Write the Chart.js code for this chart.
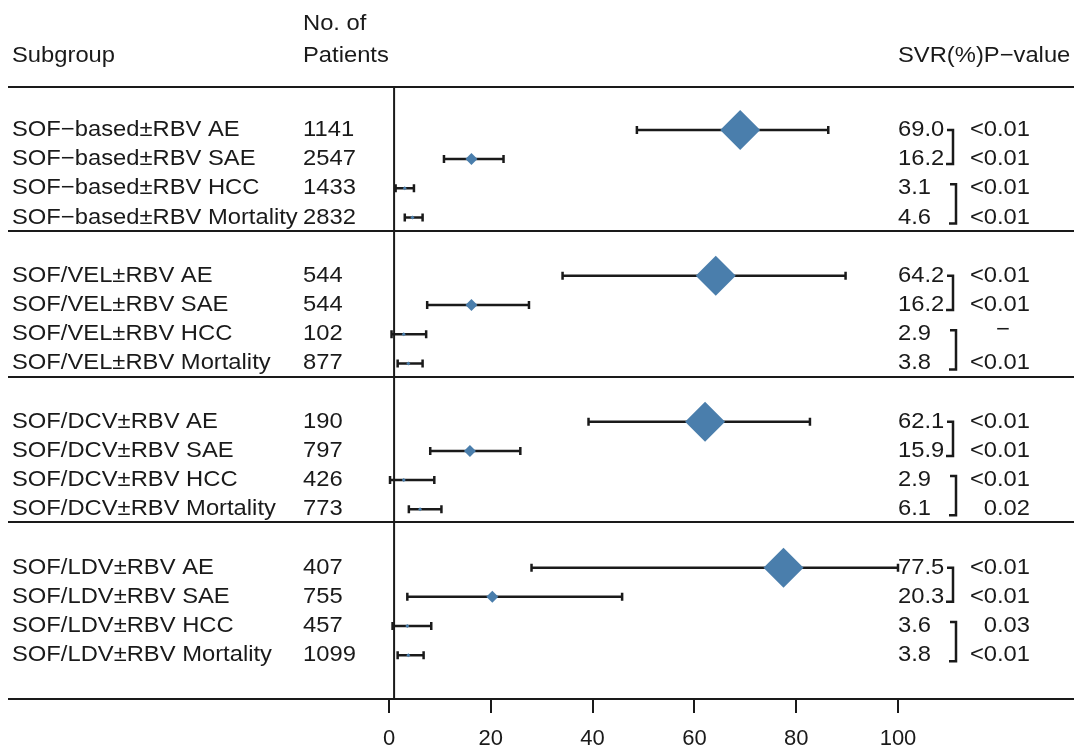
<!DOCTYPE html>
<html lang="en">
<head>
  <meta charset="UTF-8" />
  <title>SVR forest plot</title>
  <script src="https://cdn.jsdelivr.net/npm/chart.js"></script>
  <style>
    html, body {
      margin: 0;
      padding: 0;
      background: #fff;
    }
  </style>
</head>
<body>
  <canvas id="forest" width="1074" height="747"></canvas>

  <script>
    // Data
    const subgroups = [
      'SOF−based±RBV AE', 'SOF−based±RBV SAE', 'SOF−based±RBV HCC', 'SOF−based±RBV Mortality',
      'SOF/VEL±RBV AE', 'SOF/VEL±RBV SAE', 'SOF/VEL±RBV HCC', 'SOF/VEL±RBV Mortality',
      'SOF/DCV±RBV AE', 'SOF/DCV±RBV SAE', 'SOF/DCV±RBV HCC', 'SOF/DCV±RBV Mortality',
      'SOF/LDV±RBV AE', 'SOF/LDV±RBV SAE', 'SOF/LDV±RBV HCC', 'SOF/LDV±RBV Mortality'
    ];
    const patients = [1141, 2547, 1433, 2832, 544, 544, 102, 877, 190, 797, 426, 773, 407, 755, 457, 1099];
    const svr = [69.0, 16.2, 3.1, 4.6, 64.2, 16.2, 2.9, 3.8, 62.1, 15.9, 2.9, 6.1, 77.5, 20.3, 3.6, 3.8];
    const ciLow = [48.7, 10.8, 1.3, 3.1, 34.1, 7.5, 0.5, 1.7, 39.2, 8.1, 0.2, 3.9, 28.0, 3.6, 0.7, 1.7];
    const ciHigh = [86.3, 22.5, 4.9, 6.6, 89.7, 27.5, 7.3, 6.6, 82.7, 25.8, 8.9, 10.3, 100, 45.8, 8.3, 6.8];
    const pValues = ['<0.01', '<0.01', '<0.01', '<0.01', '<0.01', '<0.01', '−', '<0.01',
                     '<0.01', '<0.01', '<0.01', '0.02', '<0.01', '<0.01', '0.03', '<0.01'];
    const xTicks = [0, 20, 40, 60, 80, 100];
    const refValue = 1;

    // layout helpers
    const perGroup = 4;
    const nGroups = subgroups.length / perGroup;
    const rowOf = i => Math.floor(i / perGroup) * (perGroup + 1) + (i % perGroup);
    const markerSize = [20, 6, 2, 2];           // AE, SAE, HCC, Mortality
    const FONT = '22px "Liberation Sans", Arial, sans-serif';
    const STRETCH = 1.08;                       // original text is a bit wide
    const INK = '#1a1a1a';
    const BLUE = '#4a7eac';

    function drawText(ctx, text, x, y, align) {
      ctx.save();
      ctx.translate(x, y);
      ctx.scale(STRETCH, 1);
      ctx.textAlign = align || 'left';
      ctx.fillText(text, 0, 0);
      ctx.restore();
    }

    const forestPlugin = {
      id: 'forest',
      beforeDatasetsDraw(chart) {
        const { ctx, scales: { x, y }, chartArea } = chart;
        ctx.save();
        ctx.strokeStyle = INK;

        // reference line
        ctx.lineWidth = 2;
        ctx.beginPath();
        ctx.moveTo(x.getPixelForValue(refValue), chartArea.top);
        ctx.lineTo(x.getPixelForValue(refValue), chartArea.bottom);
        ctx.stroke();

        // header line, group separators, bottom line
        const hLines = [y.min, y.max];
        for (let g = 1; g < nGroups; g++) hLines.push(g * (perGroup + 1) - 1.55);
        ctx.lineWidth = 2;
        hLines.forEach(v => {
          const py = Math.round(y.getPixelForValue(v));
          ctx.beginPath();
          ctx.moveTo(8, py);
          ctx.lineTo(chart.width, py);
          ctx.stroke();
        });

        // confidence intervals
        ctx.lineWidth = 2.5;
        svr.forEach((v, i) => {
          const py = y.getPixelForValue(rowOf(i));
          const x1 = x.getPixelForValue(ciLow[i]);
          const x2 = x.getPixelForValue(ciHigh[i]);
          ctx.beginPath();
          ctx.moveTo(x1, py);
          ctx.lineTo(x2, py);
          ctx.moveTo(x1, py - 4);
          ctx.lineTo(x1, py + 4);
          ctx.moveTo(x2, py - 4);
          ctx.lineTo(x2, py + 4);
          ctx.stroke();
        });
        ctx.restore();
      },
      afterDraw(chart) {
        const { ctx, scales: { y } } = chart;
        ctx.save();
        ctx.fillStyle = INK;
        ctx.strokeStyle = INK;
        ctx.font = FONT;
        ctx.textBaseline = 'middle';

        // headers
        drawText(ctx, 'Subgroup', 12, 56);
        drawText(ctx, 'No. of', 303, 24);
        drawText(ctx, 'Patients', 303, 56);
        drawText(ctx, 'SVR(%)P−value', 898, 56);

        subgroups.forEach((label, i) => {
          const py = y.getPixelForValue(rowOf(i));
          drawText(ctx, label, 12, py);
          drawText(ctx, String(patients[i]), 303, py);
          drawText(ctx, svr[i].toFixed(1), 898, py);
          if (pValues[i] === '−') {
            drawText(ctx, pValues[i], 1003, py - 4, 'center');
          } else {
            drawText(ctx, pValues[i], 1030, py, 'right');
          }
        });

        // brackets pairing AE/SAE and HCC/Mortality
        ctx.lineWidth = 2.5;
        for (let g = 0; g < nGroups; g++) {
          [[0, 953, 0, 5], [2, 956, -4, 6]].forEach(([r, bx, dTop, dBot]) => {
            const i = g * perGroup + r;
            const y1 = y.getPixelForValue(rowOf(i)) + dTop;
            const y2 = y.getPixelForValue(rowOf(i + 1)) + dBot;
            ctx.beginPath();
            ctx.moveTo(bx - 6, y1);
            ctx.lineTo(bx, y1);
            ctx.lineTo(bx, y2);
            ctx.lineTo(bx - 7, y2);
            ctx.stroke();
          });
        }
        ctx.restore();
      }
    };

    new Chart(document.getElementById('forest'), {
      type: 'scatter',
      data: {
        datasets: [{
          label: 'SVR (%)',
          data: svr.map((v, i) => ({ x: v, y: rowOf(i) })),
          pointStyle: 'rectRot',
          pointRadius: svr.map((v, i) => markerSize[i % perGroup]),
          pointBackgroundColor: BLUE,
          pointBorderWidth: 0,
          pointBorderColor: BLUE
        }]
      },
      options: {
        responsive: false,
        animation: false,
        devicePixelRatio: 1,
        layout: { padding: { left: 389, right: 176, top: 87, bottom: 0 } },
        plugins: { legend: { display: false }, tooltip: { enabled: false } },
        scales: {
          x: {
            type: 'linear',
            min: 0,
            max: 100,
            afterBuildTicks: s => { s.ticks = xTicks.map(v => ({ value: v })); },
            afterFit: s => { s.height = 48; },
            border: { display: false },
            grid: { drawOnChartArea: false, drawTicks: true, tickLength: 14, color: INK, lineWidth: 2 },
            ticks: {
              padding: 13,
              color: INK,
              font: { family: '"Liberation Sans", Arial, sans-serif', size: 22 }
            }
          },
          y: {
            type: 'linear',
            display: false,
            reverse: true,
            min: -1.47,
            max: 19.5
          }
        }
      },
      plugins: [forestPlugin]
    });
  </script>
</body>
</html>
